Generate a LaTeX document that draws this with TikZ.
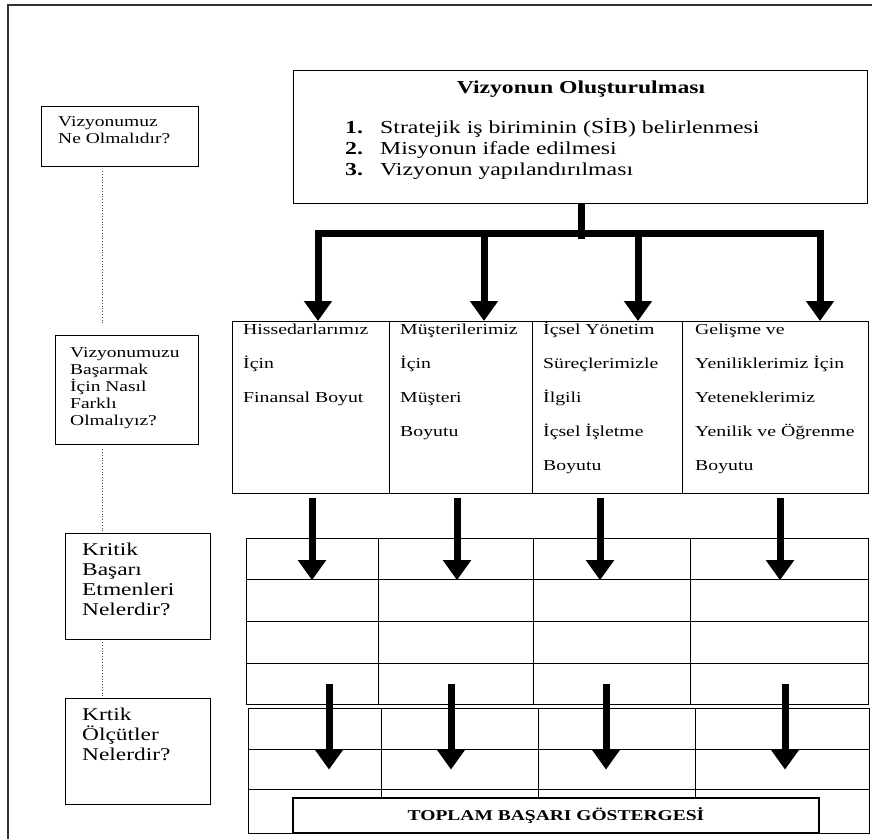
\documentclass[tikz,border=0pt]{standalone}
\usepackage{fontspec}
\setmainfont{Liberation Serif}[FakeStretch=1.3]
\usetikzlibrary{arrows.meta, positioning, calc}

\newcommand{\qstrut}[1]{\rule{0pt}{#1}}

\begin{document}
\begin{tikzpicture}[x=1pt, y=-1pt,
    qbox/.style={draw, line width=1.2pt, anchor=north west, inner sep=0pt},
    qtext/.style={anchor=north west, align=left, inner sep=0pt},
    cell/.style={draw, line width=1.2pt, anchor=north west, inner sep=0pt},
    bigarrow/.style={line width=7pt, -{Triangle[length=20pt, width=27pt]}},
    guide/.style={dotted, line width=0.8pt, black!70}]

        \useasboundingbox (0,0) rectangle (872,839);

        % Outer frame
        \draw[line width=1.4pt, black!80] (8,839) -- (8,5) -- (872,5);

        % Question boxes on the left
        \node[qbox, minimum width=157pt, minimum height=60pt] (q1) at (41,106) {};
        \node[qtext, font=\fontsize{15}{17}\selectfont] (q1t) at ($(q1.north west)+(17,8)$)
            {\qstrut{12pt}Vizyonumuz\\Ne Olmalıdır?};
        \node[qbox, minimum width=143pt, minimum height=109pt] (q2) at (55,335) {};
        \node[qtext, font=\fontsize{15}{17}\selectfont] (q2t) at ($(q2.north west)+(15,10)$)
            {\qstrut{12pt}Vizyonumuzu\\Başarmak\\İçin Nasıl\\Farklı\\Olmalıyız?};
        \node[qbox, minimum width=145pt, minimum height=106pt] (q3) at (65,533) {};
        \node[qtext, font=\fontsize{18}{20}\selectfont] (q3t) at ($(q3.north west)+(17,8)$)
            {\qstrut{14pt}Kritik\\Başarı\\Etmenleri\\Nelerdir?};
        \node[qbox, minimum width=145pt, minimum height=106pt] (q4) at (65,698) {};
        \node[qtext, font=\fontsize{18}{20}\selectfont] (q4t) at ($(q4.north west)+(17,8)$)
            {\qstrut{14pt}Krtik\\Ölçütler\\Nelerdir?};

        % Dotted guide between the questions
        \coordinate (g) at (102,0);
        \draw[guide, shorten <=4pt, shorten >=10pt] (q1.south -| g) -- (q2.north -| g);
        \draw[guide, shorten <=4pt] (q2.south -| g) -- (q3.north -| g);
        \draw[guide, shorten <=2pt] (q3.south -| g) -- (q4.north -| g);

        % Main Box
        \node[qbox, minimum width=574pt, minimum height=133pt] (vis) at (293,70) {};
        \node[anchor=base, inner sep=0pt, font=\bfseries\fontsize{18.2}{20}\selectfont] (vtitle) at (581,93)
            {Vizyonun Oluşturulması};
        \foreach \t [count=\i] in {Stratejik iş biriminin (SİB) belirlenmesi,
                                   Misyonun ifade edilmesi,
                                   Vizyonun yapılandırılması} {
            \node[anchor=base west, inner sep=0pt, font=\bfseries\fontsize{18.3}{20}\selectfont] (vn\i) at (345,112+21*\i) {\i.};
            \node[anchor=base west, inner sep=0pt, font=\fontsize{18.3}{20}\selectfont] (vl\i) at (380,112+21*\i) {\t};
        }

        % Perspective boxes
        \node[qbox, minimum width=157pt, minimum height=172pt] (h1) at (232,321) {};
        \node[qbox, minimum width=143pt, minimum height=172pt] (h2) at (389,321) {};
        \node[qbox, minimum width=150pt, minimum height=172pt] (h3) at (532,321) {};
        \node[qbox, minimum width=186pt, minimum height=172pt] (h4) at (682,321) {};
        \begin{scope}[every node/.style={qtext, font=\fontsize{15.2}{34}\selectfont}]
            \node (h1t) at ($(h1.north west)+(11,1)$) {\qstrut{12pt}Hissedarlarımız\\İçin\\Finansal Boyut};
            \node (h2t) at ($(h2.north west)+(11,1)$) {\qstrut{12pt}Müşterilerimiz\\İçin\\Müşteri\\Boyutu};
            \node (h3t) at ($(h3.north west)+(11,1)$) {\qstrut{12pt}İçsel Yönetim\\Süreçlerimizle\\İlgili\\İçsel İşletme\\Boyutu};
            \node (h4t) at ($(h4.north west)+(13,1)$) {\qstrut{12pt}Gelişme ve\\Yeniliklerimiz İçin\\Yeteneklerimiz\\Yenilik ve Öğrenme\\Boyutu};
        \end{scope}

        % Branching arrows from the main box
        \coordinate (s) at (581,239);
        \foreach \x [count=\i] in {318,484,638,820}
            \coordinate (t\i) at (\x,233);
        \draw[line width=7pt] (vis.south -| s) -- (s);
        \draw[line width=7pt, line cap=rect] (t1) -- (t4);
        \foreach \i in {1,...,4}
            \draw[bigarrow] (t\i) -- (h\i.north -| t\i);

        % Critical success factors table
        \foreach \xa/\xb [count=\c] in {246/378, 378/533, 533/690, 690/868}
            \foreach \ya/\yb [count=\r] in {538/579, 579/621, 621/663, 663/704}
                \node[cell, minimum width={\xb-\xa}, minimum height={\yb-\ya}] (k1-\c-\r) at (\xa,\ya) {};

        % Critical measures table
        \foreach \xa/\xb [count=\c] in {248/381, 381/538, 538/695, 695/869}
            \foreach \ya/\yb [count=\r] in {708/749, 749/789, 789/833}
                \node[cell, minimum width={\xb-\xa}, minimum height={\yb-\ya}] (k2-\c-\r) at (\xa,\ya) {};

        % Arrows down to the tables
        \foreach \x [count=\i] in {312,457,600,780} {
            \coordinate (b\i) at (\x,0);
            \draw[bigarrow, shorten <=4pt] (h\i.south -| b\i) -- (k1-\i-1.south -| b\i);
        }
        \foreach \x [count=\i] in {329,451,606,785} {
            \coordinate (c\i) at (\x,0);
            \draw[bigarrow] (k1-\i-4.center -| c\i) -- (k2-\i-2.center -| c\i);
        }

        % Total box
        \node[draw, fill=white, line width=1.2pt, minimum width=526pt, minimum height=35pt, inner sep=0pt,
              font=\bfseries\fontsize{15}{17}\selectfont] (tot) at (556,815.5) {TOPLAM BAŞARI GÖSTERGESİ};

\end{tikzpicture}
\end{document}
